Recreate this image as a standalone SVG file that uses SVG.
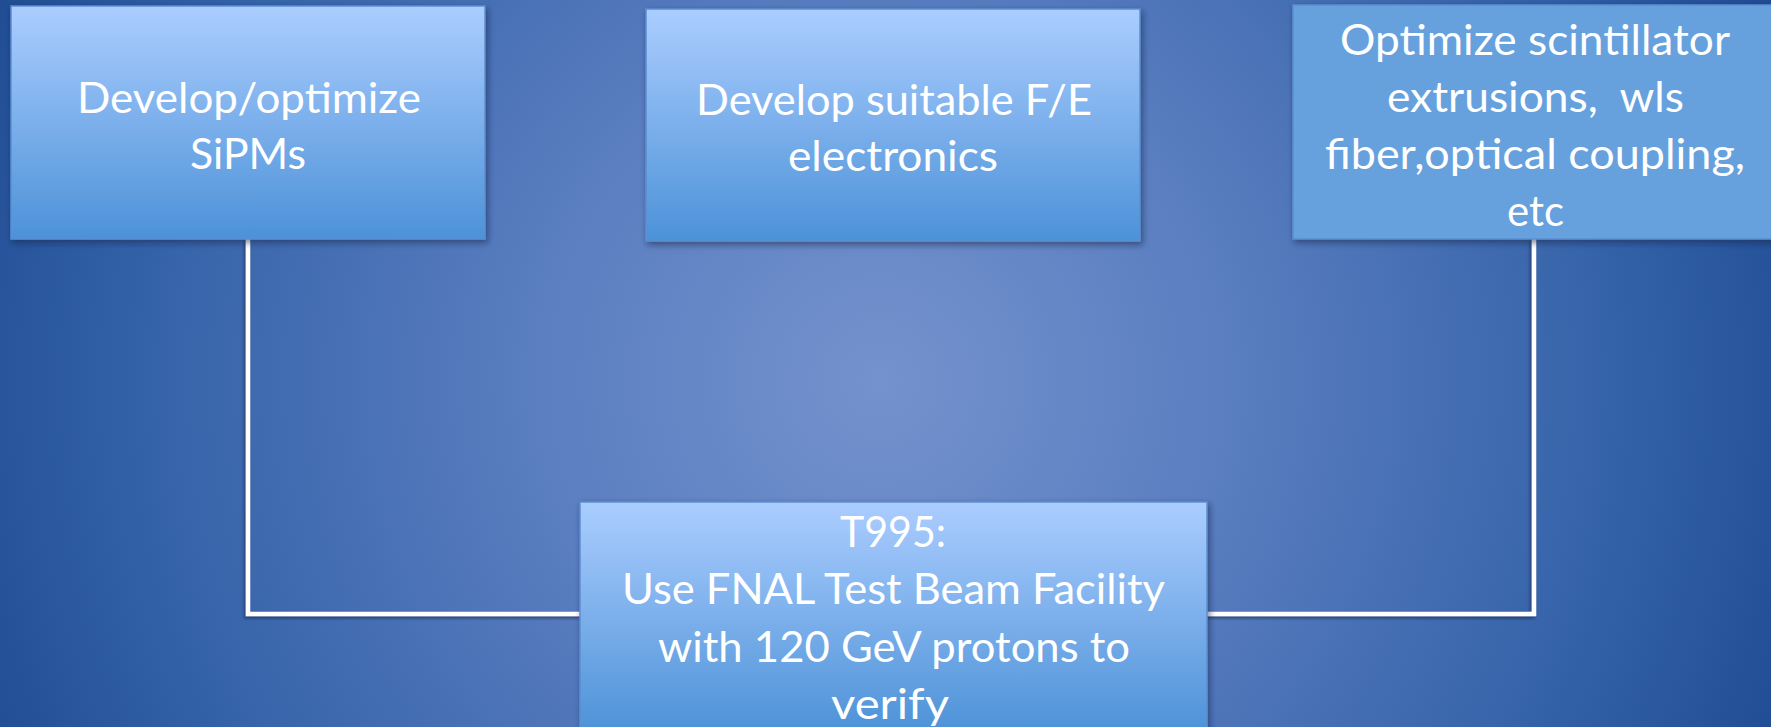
<svg xmlns="http://www.w3.org/2000/svg" width="1771" height="727" viewBox="0 0 1771 727">
  <defs>
    <radialGradient id="bg" gradientUnits="userSpaceOnUse" cx="880" cy="380" r="1000">
      <stop offset="0" stop-color="#7492cd"/>
      <stop offset="0.35" stop-color="#5a7ec0"/>
      <stop offset="0.75" stop-color="#3361a8"/>
      <stop offset="1" stop-color="#1d4990"/>
    </radialGradient>
    <linearGradient id="boxg" x1="0" y1="0" x2="0" y2="1">
      <stop offset="0" stop-color="#abcdff"/>
      <stop offset="1" stop-color="#4c92d8"/>
    </linearGradient>
    <linearGradient id="boxg4" gradientUnits="userSpaceOnUse" x1="0" y1="502" x2="0" y2="740">
      <stop offset="0" stop-color="#abcdff"/>
      <stop offset="1" stop-color="#4a90d6"/>
    </linearGradient>
    <filter id="sh" x="-10%" y="-10%" width="120%" height="130%">
      <feDropShadow dx="2" dy="3" stdDeviation="3" flood-color="#0a1f45" flood-opacity="0.55"/>
    </filter>
    <filter id="lsh" x="-20%" y="-20%" width="140%" height="140%">
      <feDropShadow dx="-1.5" dy="2" stdDeviation="1.5" flood-color="#0a1f45" flood-opacity="0.6"/>
    </filter>
  </defs>
  <style>
    .box { stroke: #5b8fd0; stroke-width: 1.5; filter: url(#sh); }
    .t { font-family: Lato, "Open Sans", "Liberation Sans", sans-serif; font-size: 42px; fill: #ffffff; text-anchor: middle; }
    .conn { fill: none; stroke: #ffffff; stroke-width: 4.5; stroke-linejoin: miter; filter: url(#lsh); }
  </style>
  <rect x="0" y="0" width="1771" height="727" fill="url(#bg)"/>

  <g id="connectors">
    <path class="conn" d="M248 239 V614 H582"/>
    <path class="conn" d="M893 241 V503"/>
    <path class="conn" d="M1534 239 V614 H1205"/>
  </g>

  <g id="node-sipm">
    <rect class="box" x="11" y="6" width="474" height="233" fill="url(#boxg)"/>
    <text class="t" x="249" y="113" textLength="344" lengthAdjust="spacingAndGlyphs">Develop/optimize</text>
    <text class="t" x="248" y="169" textLength="116" lengthAdjust="spacingAndGlyphs">SiPMs</text>
  </g>

  <g id="node-fe">
    <rect class="box" x="646" y="9" width="494" height="232" fill="url(#boxg)"/>
    <text class="t" x="894" y="115" textLength="396" lengthAdjust="spacingAndGlyphs">Develop suitable F/E</text>
    <text class="t" x="893" y="171" textLength="210" lengthAdjust="spacingAndGlyphs">electronics</text>
  </g>

  <g id="node-scint">
    <rect class="box" x="1293" y="5" width="490" height="234" fill="#66a1de"/>
    <text class="t" x="1535" y="55" textLength="390" lengthAdjust="spacingAndGlyphs">Optimize scintillator</text>
    <text class="t" x="1535.5" y="112" textLength="297" lengthAdjust="spacingAndGlyphs" xml:space="preserve">extrusions,  wls</text>
    <text class="t" x="1535" y="169" textLength="420" lengthAdjust="spacingAndGlyphs">fiber,optical coupling,</text>
    <text class="t" x="1535.5" y="226" textLength="57" lengthAdjust="spacingAndGlyphs">etc</text>
  </g>

  <g id="node-t995">
    <rect class="box" x="580" y="502" width="627" height="240" fill="url(#boxg4)"/>
    <text class="t" x="893" y="547" textLength="106" lengthAdjust="spacingAndGlyphs">T995:</text>
    <text class="t" x="893.5" y="604" textLength="543" lengthAdjust="spacingAndGlyphs">Use FNAL Test Beam Facility</text>
    <text class="t" x="894" y="662" textLength="472" lengthAdjust="spacingAndGlyphs">with 120 GeV protons to</text>
    <text class="t" x="890" y="719" textLength="118" lengthAdjust="spacingAndGlyphs">verify</text>
  </g>
</svg>
